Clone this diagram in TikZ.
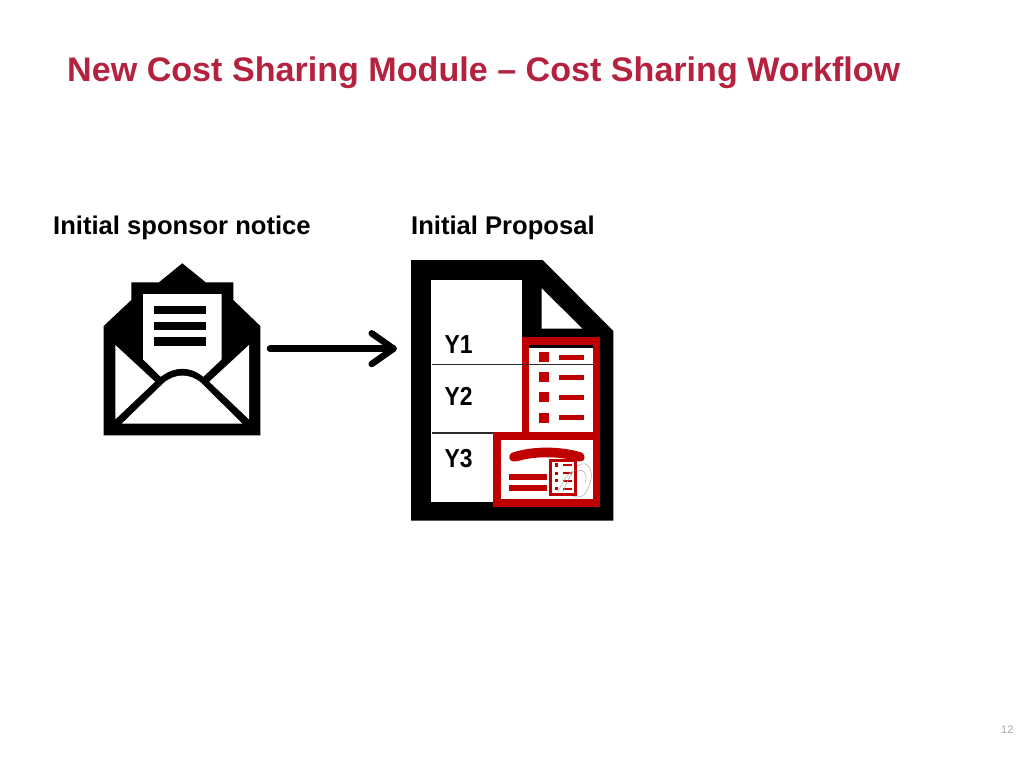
\documentclass[tikz,border=0pt]{standalone}
\usepackage{fontspec}
\setmainfont{Liberation Sans}
\definecolor{titlered}{HTML}{B5223F}
\definecolor{cardred}{HTML}{BF0000}
\definecolor{rulegray}{HTML}{2B2B2B}
\tikzset{
  lbl/.style={inner sep=0pt,anchor=base west,font=\fontsize{25.6}{30}\selectfont\bfseries,text=black},
  cell/.style={inner sep=0pt,anchor=base west,font=\fontsize{26}{30}\selectfont\bfseries,text=black},
  arrowline/.style={draw=black,line width=6.5pt,line cap=round,line join=round},
  earline/.style={draw=gray!60,line width=0.6pt}
}
\begin{document}
\begin{tikzpicture}[x=1pt,y=-1pt]
\useasboundingbox (0,0) rectangle (1024,768);
\fill[white] (0,0) rectangle (1024,768);
\node[inner sep=0pt,anchor=base west,font=\fontsize{34.1}{40}\selectfont\bfseries,text=titlered] (title) at (67,81.5) {New Cost Sharing Module – Cost Sharing Workflow};
\node[lbl] (l1) at (53,234.5) {Initial sponsor notice};
\node[lbl] (l2) at (411,234.5) {Initial Proposal};
\node[inner sep=0pt,anchor=base west,font=\fontsize{11}{13}\selectfont,text=gray!70] (pg) at (1001,733) {12};

% envelope
\fill[black] (103.7,326) -- (131.3,300) -- (131.3,282.3) -- (159,282.3) -- (182.3,263.3) -- (205.7,282.3) -- (233.3,282.3) -- (233.3,300) -- (260.3,326) -- (260.3,435.3) -- (103.7,435.3) -- cycle;
\fill[white] (143,294) -- (221.7,294) -- (221.7,359.3) -- (203.3,376.7) .. controls (190,366) and (175,366) .. (160.7,376.7) -- (143,359.3) -- cycle;
\fill[black] (154.3,306) rectangle (205.7,314);
\fill[black] (154.3,321.7) rectangle (205.7,330);
\fill[black] (154.3,337.3) rectangle (205.7,345.7);
\fill[white] (115.3,345) -- (155,381.7) -- (115.3,419.3) -- cycle;
\fill[white] (249,345) -- (209.3,381.7) -- (249,419.3) -- cycle;
\fill[white] (121.7,423.7) -- (163.3,383.3) .. controls (175,373) and (190,373) .. (201.7,383.3) -- (242.3,423.7) -- cycle;

% arrow
\coordinate (as) at (270,348.7);
\coordinate (ae) at (393.5,348.7);
\coordinate (au) at (371.7,333.3);
\coordinate (ad) at (371.7,364);
\draw[arrowline] (as) -- (ae);
\draw[arrowline] (au) -- (ae) -- (ad);

% document
\fill[black] (411,260) -- (542.7,260) -- (613.3,331) -- (613.3,520.7) -- (411,520.7) -- cycle;
\fill[white] (431,280) rectangle (522.3,501.7);
\fill[white] (541.7,288.3) -- (582.3,328.7) -- (541.7,328.7) -- cycle;

% checklist card
\fill[cardred] (522.3,337.3) rectangle (600,433);
\fill[white] (529.3,345) rectangle (593,433);
\fill[black] (529.3,345) rectangle (593,347.7);
\foreach \y in {352.3,372.3,392.3,412.7}{
  \fill[cardred] (538.7,\y) rectangle (548.7,\y+10);
  \fill[cardred] (558.7,\y+2.7) rectangle (583.7,\y+7.4);
}
% rules
\draw[rulegray,line width=1.4pt] (432,364.3) -- (593,364.3);
\draw[rulegray,line width=1.4pt] (432,433) -- (494,433);

\node[cell] (y1) at (444.5,353.3) {\scalebox{0.88}[1]{Y1}};
\node[cell] (y2) at (444.5,405.3) {\scalebox{0.88}[1]{Y2}};
\node[cell] (y3) at (444.5,467) {\scalebox{0.88}[1]{Y3}};

% phone card
\fill[cardred] (493.3,431.7) rectangle (600,506.7);
\fill[white] (500.7,440) rectangle (592.7,498.7);
\fill[cardred] (509.3,457.5) .. controls (509.3,453.5) and (512,452.5) .. (516,451.5) .. controls (535,446.3) and (558,446.3) .. (578,451.5) .. controls (582,452.5) and (584.5,453.5) .. (584.5,457.5) .. controls (584.5,461.5) and (580,462) .. (576,461) .. controls (558,456) and (535,456) .. (518,461) .. controls (514,462) and (509.3,461.5) .. (509.3,457.5) -- cycle;
\fill[cardred] (509.3,474.3) rectangle (546.7,480);
\fill[cardred] (509.3,485.3) rectangle (546.7,490.7);
% small card and ear
\draw[earline] (576.7,466.7) .. controls (581,462) and (589,462) .. (591,472) .. controls (592.5,482) and (588,488) .. (585,494) .. controls (582,497.5) and (576,497.5) .. (573,496.5);
\draw[earline] (578,471) .. controls (584,468) and (588,475) .. (585,483);
\draw[cardred,line width=2.6pt] (550.6,460.6) rectangle (575.4,494.5);
\foreach \y in {465,473.3,480.7,488.7}{
  \fill[cardred] (555,\y-1.7) rectangle (558.3,\y+1.7);
  \fill[cardred] (562.7,\y-1) rectangle (571.7,\y+1);
}
\draw[earline] (558,492) .. controls (563,482) and (567,473) .. (575,470);
\draw[earline] (563,492) .. controls (566,484) and (570,476) .. (573,472);
\end{tikzpicture}
\end{document}
